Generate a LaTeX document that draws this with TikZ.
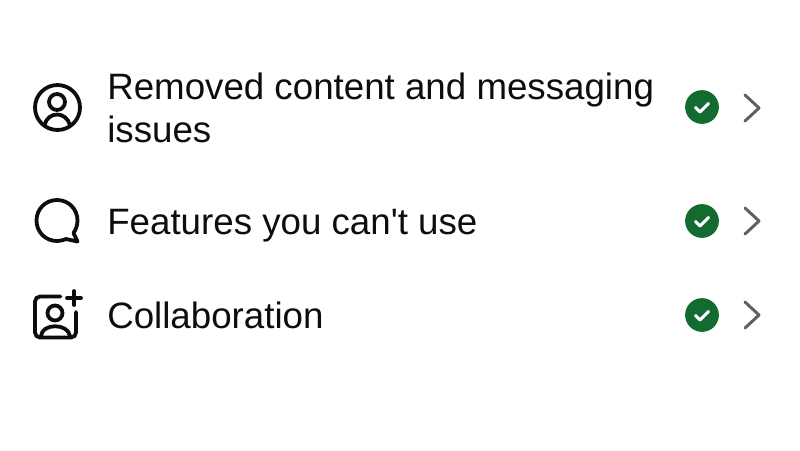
\documentclass[tikz,border=0pt]{standalone}
\usepackage{xcolor}
\usepackage{fontspec}
\setmainfont{Liberation Sans}[Ligatures=TeXOff]
\definecolor{badgegreen}{HTML}{136B32}
\definecolor{chevrongrey}{HTML}{5F5F5F}
\tikzset{
    rowlabel/.style={anchor=base west, inner sep=0pt, font=\fontsize{26.1pt}{32pt}\selectfont, text=black!95},
    iconline/.style={line width=2.7pt, line cap=round, line join=round, draw=black!95},
    checkbadge/.style={circle, fill=badgegreen, minimum size=24pt, inner sep=0pt},
    checkmark/.style={draw=white, line width=2.1pt, line cap=round, line join=round},
    chevron/.style={draw=chevrongrey, line width=2.1pt, line cap=round, line join=round},
}
\begin{document}
\begin{tikzpicture}[x=0.025cm, y=-0.025cm]
    \useasboundingbox (0, 0) rectangle (800, 450);

    \node[rowlabel] at (107, 99) (removed) {Removed content and messaging};
    \node[rowlabel] at (107, 142) (issues) {issues};
    \node[rowlabel] at (107, 234) (features) {Features you can't use};
    \node[rowlabel] at (107, 328) (collab) {Collaboration};

    % profile icon
    \draw[iconline] (57.5, 107.5) circle (22.5);
    \draw[iconline] (57, 102) circle (8);
    \draw[iconline] (44.5, 125) .. controls (48, 111) and (66, 111) .. (70, 125);

    % speech bubble
    \draw[iconline] (57, 200) .. controls (68.5, 200) and (77.5, 209) .. (77.5, 220.5)
        .. controls (77.5, 225) and (76, 229.5) .. (73.5, 233) -- (77.5, 241.5) -- (66, 239)
        .. controls (63, 240.3) and (60, 241) .. (57, 241)
        .. controls (45.5, 241) and (36.5, 232) .. (36.5, 220.5)
        .. controls (36.5, 209) and (45.5, 200) .. (57, 200) -- cycle;

    % add profile icon
    \draw[iconline, rounded corners=0.125cm] (60.5, 296.5) -- (35, 296.5) -- (35, 337.5)
        -- (76, 337.5) -- (76, 312);
    \draw[iconline] (74, 291) -- (74, 305) (67, 298) -- (81, 298);
    \draw[iconline] (55, 313) circle (7.5);
    \draw[iconline] (41, 336) .. controls (42, 323) and (68, 323) .. (70, 336);

    \node[checkbadge] at (702, 107) (check1) {};
    \node[checkbadge] at (702, 221) (check2) {};
    \node[checkbadge] at (702, 315) (check3) {};
    \foreach \badge in {check1, check2, check3} {
        \draw[checkmark] ([shift={(-6.5, 0.5)}]\badge.center) -- ++(4.5, 4.5) -- ++(8.5, -8.5);
    }

    \draw[chevron] (745, 95) -- (759, 108) -- (745, 121);
    \draw[chevron] (745, 208) -- (759, 221) -- (745, 234);
    \draw[chevron] (745, 302) -- (759, 315) -- (745, 328);
\end{tikzpicture}
\end{document}
